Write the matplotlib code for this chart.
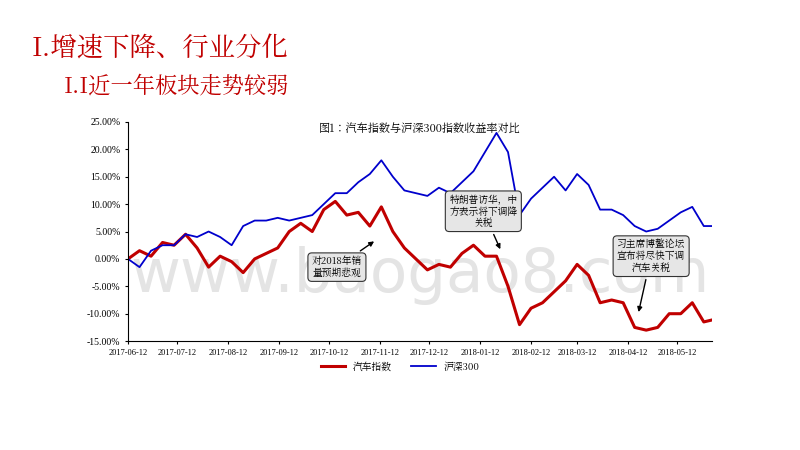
import pandas as pd
import matplotlib.pyplot as plt
import matplotlib.dates as mdates
from matplotlib import font_manager
from matplotlib.ticker import FuncFormatter

# find an installed CJK font
cjk = [f for f in font_manager.fontManager.ttflist if 'CJK' in f.name]
cjk_name = next((f.name for f in cjk if 'SC' in f.name), cjk[0].name if cjk else 'DejaVu Sans')
plt.rcParams['font.family'] = [cjk_name, 'DejaVu Sans']

# weekly readings, % return since 2017-06-12
dates = pd.date_range('2017-06-12', periods=52, freq='7D')
auto = [0, 1.5, 0.5, 3, 2.5, 4.5, 2, -1.5, 0.5, -0.5, -2.5, 0, 1, 2, 5, 6.5, 5, 9, 10.5, 8,
        8.5, 6, 9.5, 5, 2, 0, -2, -1, -1.5, 1, 2.5, 0.5, 0.5, -5, -12, -9, -8, -6, -4, -1,
        -3, -8, -7.5, -8, -12.5, -13, -12.5, -10, -10, -8, -11.5, -11]
hs300 = [0, -1.5, 1.5, 2.5, 2.5, 4.5, 4, 5, 4, 2.5, 6, 7, 7, 7.5, 7, 7.5, 8, 10, 12, 12,
         14, 15.5, 18, 15, 12.5, 12, 11.5, 13, 12, 14, 16, 19.5, 23, 19.5, 8, 11, 13, 15, 12.5, 15.5,
         13.5, 9, 9, 8, 6, 5, 5.5, 7, 8.5, 9.5, 6, 6]
tick_dates = pd.date_range('2017-06-12', periods=12, freq=pd.DateOffset(months=1))

fig = plt.figure(figsize=(8, 4.5), dpi=100)
fig.text(0.04, 0.875, 'I.增速下降、行业分化', color='#c00000', fontsize=19)
fig.text(0.08, 0.795, 'I.I近一年板块走势较弱', color='#c00000', fontsize=16)

ax = fig.add_axes([0.16, 0.242, 0.73, 0.487])
ax.text(0.5, 0.3, 'www.baogao8.com', transform=ax.transAxes, ha='center', va='center',
        fontsize=44, color='#e4e4e4', zorder=0, fontfamily='DejaVu Sans')
ax.plot(dates, auto, color='#c00000', lw=2.2, label='汽车指数')
ax.plot(dates, hs300, color='#0000cc', lw=1.3, label='沪深300')
ax.set_ylim(-15, 25)
ax.set_yticks(range(-15, 26, 5))
ax.yaxis.set_major_formatter(FuncFormatter(lambda v, p: f'{v:.2f}%'))
ax.set_xlim(dates[0], pd.Timestamp('2018-06-02'))
ax.set_xticks(tick_dates)
ax.xaxis.set_major_formatter(mdates.DateFormatter('%Y-%m-%d'))
ax.tick_params(axis='y', labelsize=7, length=2)
ax.tick_params(axis='x', labelsize=6, length=2)
for lab in ax.get_xticklabels() + ax.get_yticklabels():
    lab.set_fontfamily('Liberation Serif')
for s in ['top', 'right']:
    ax.spines[s].set_visible(False)
ax.text(0.5, 0.995, '图1：汽车指数与沪深300指数收益率对比', transform=ax.transAxes,
        ha='center', va='top', fontsize=8)

box = dict(boxstyle='round,pad=0.4', fc='#e6e6e6', ec='#333333', lw=0.8)
arrow = dict(arrowstyle='-|>', color='black', lw=1)
ax.annotate('对2018年销\n量预期悲观', xy=(pd.Timestamp('2017-11-10'), 3.5),
            xytext=(pd.Timestamp('2017-10-17'), -1.5), fontsize=7, ha='center', va='center',
            bbox=box, arrowprops=arrow)
ax.annotate('特朗普访华，中\n方表示将下调降\n关税', xy=(pd.Timestamp('2018-01-25'), 1.3),
            xytext=(pd.Timestamp('2018-01-14'), 8.7), fontsize=7, ha='center', va='center',
            bbox=box, arrowprops=arrow)
ax.annotate('习主席博鳌论坛\n宣布将尽快下调\n汽车关税', xy=(pd.Timestamp('2018-04-18'), -10.2),
            xytext=(pd.Timestamp('2018-04-26'), 0.5), fontsize=7, ha='center', va='center',
            bbox=box, arrowprops=arrow)

fig.legend(loc='lower center', bbox_to_anchor=(0.5, 0.155), ncol=2, frameon=False,
           fontsize=7, handlelength=2.5)
fig.savefig('out.png', dpi=100)
